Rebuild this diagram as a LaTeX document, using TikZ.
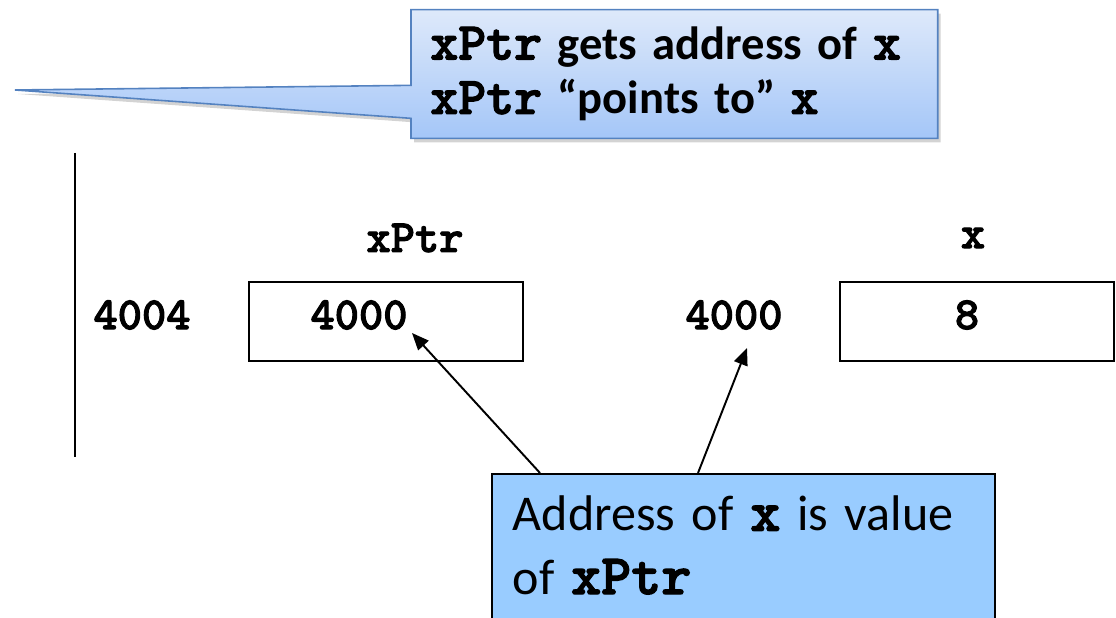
\documentclass[tikz,border=0pt]{standalone}
\usepackage{fontspec}
\setmainfont{Carlito}
\setmonofont{lmmonolt10-regular}[Extension=.otf, BoldFont=lmmonolt10-bold,
    BoldFeatures={FakeBold=2.2}, Scale=1.143]
\usetikzlibrary{positioning, arrows.meta, shadows, backgrounds}

\newcommand{\codeb}[1]{{\ttfamily\bfseries #1}}
\definecolor{calloutedge}{RGB}{84,130,192}
\definecolor{callouttop}{RGB}{222,233,250}
\definecolor{calloutbot}{RGB}{164,198,248}
\definecolor{notefill}{RGB}{153,204,255}

\begin{document}
\begin{tikzpicture}[
        cell/.style={draw, line width=0.8pt, minimum width=5.48cm, minimum height=1.58cm},
        memtext/.style={font=\fontsize{23}{27}\selectfont\ttfamily\bfseries},
        arrow/.style={-{Triangle[length=3.4mm, width=2.8mm]}, line width=1.1pt}
    ]
        \useasboundingbox (0,0) rectangle (22.32,12.36);

        % speech bubble at the top
        \node[anchor=west, text width=9.76cm, inner xsep=0.38cm, minimum height=2.56cm, align=left,
            font=\fontsize{26.5}{31}\selectfont\bfseries] (says) at (8.22, 10.88)
            {\codeb{xPtr} gets address of \codeb{x}\\ \codeb{xPtr} “points to” \codeb{x}};
        \coordinate (tip) at (0.3, 10.56);
        \begin{scope}[on background layer]
            \path[draw=calloutedge, line width=0.9pt, top color=callouttop, bottom color=calloutbot,
                drop shadow={shadow xshift=0.06cm, shadow yshift=-0.08cm, opacity=0.35}]
                (says.north west) -- (says.north east) -- (says.south east) -- (says.south west)
                -- ([yshift=0.4cm]says.south west) -- (tip) -- ([yshift=1.06cm]says.south west) -- cycle;
        \end{scope}

        % memory
        \coordinate (wtop) at (1.5, 9.3);
        \coordinate (wbot) at (1.5, 3.22);
        \draw[line width=1.4pt] (wtop) -- (wbot);

        \node[memtext] (ptrname) at (8.3, 7.6) {xPtr};
        \node[memtext] (ptraddr) at (2.84, 6.06) {4004};
        \node[cell] (ptrcell) at (7.72, 5.93) {};
        \node[memtext] (ptrval) at (7.18, 6.06) {4000};
        \node[memtext] (xaddr) at (14.68, 6.06) {4000};
        \node[memtext] (xname) at (19.46, 7.6) {x};
        \node[cell] (xcell) at (19.54, 5.93) {};
        \node[memtext] (xval) at (19.34, 6.06) {8};

        % note at the bottom
        \node[draw, line width=0.9pt, fill=notefill, anchor=north west, text width=9.22cm,
            inner xsep=0.42cm, inner ysep=0.14cm, text height=1cm, text depth=2.3cm, align=left,
            font=\fontsize{28.5}{36}\selectfont] (note) at (9.82, 2.9)
            {Address of \codeb{x} is value\\ of \codeb{xPtr}};

        \coordinate (ptrhit) at (8.24, 5.7);
        \coordinate (addrhit) at (14.94, 5.4);
        \draw[arrow] ([xshift=0.98cm]note.north west) -- (ptrhit);
        \draw[arrow] ([xshift=4.14cm]note.north west) -- (addrhit);
    \end{tikzpicture}
\end{document}
